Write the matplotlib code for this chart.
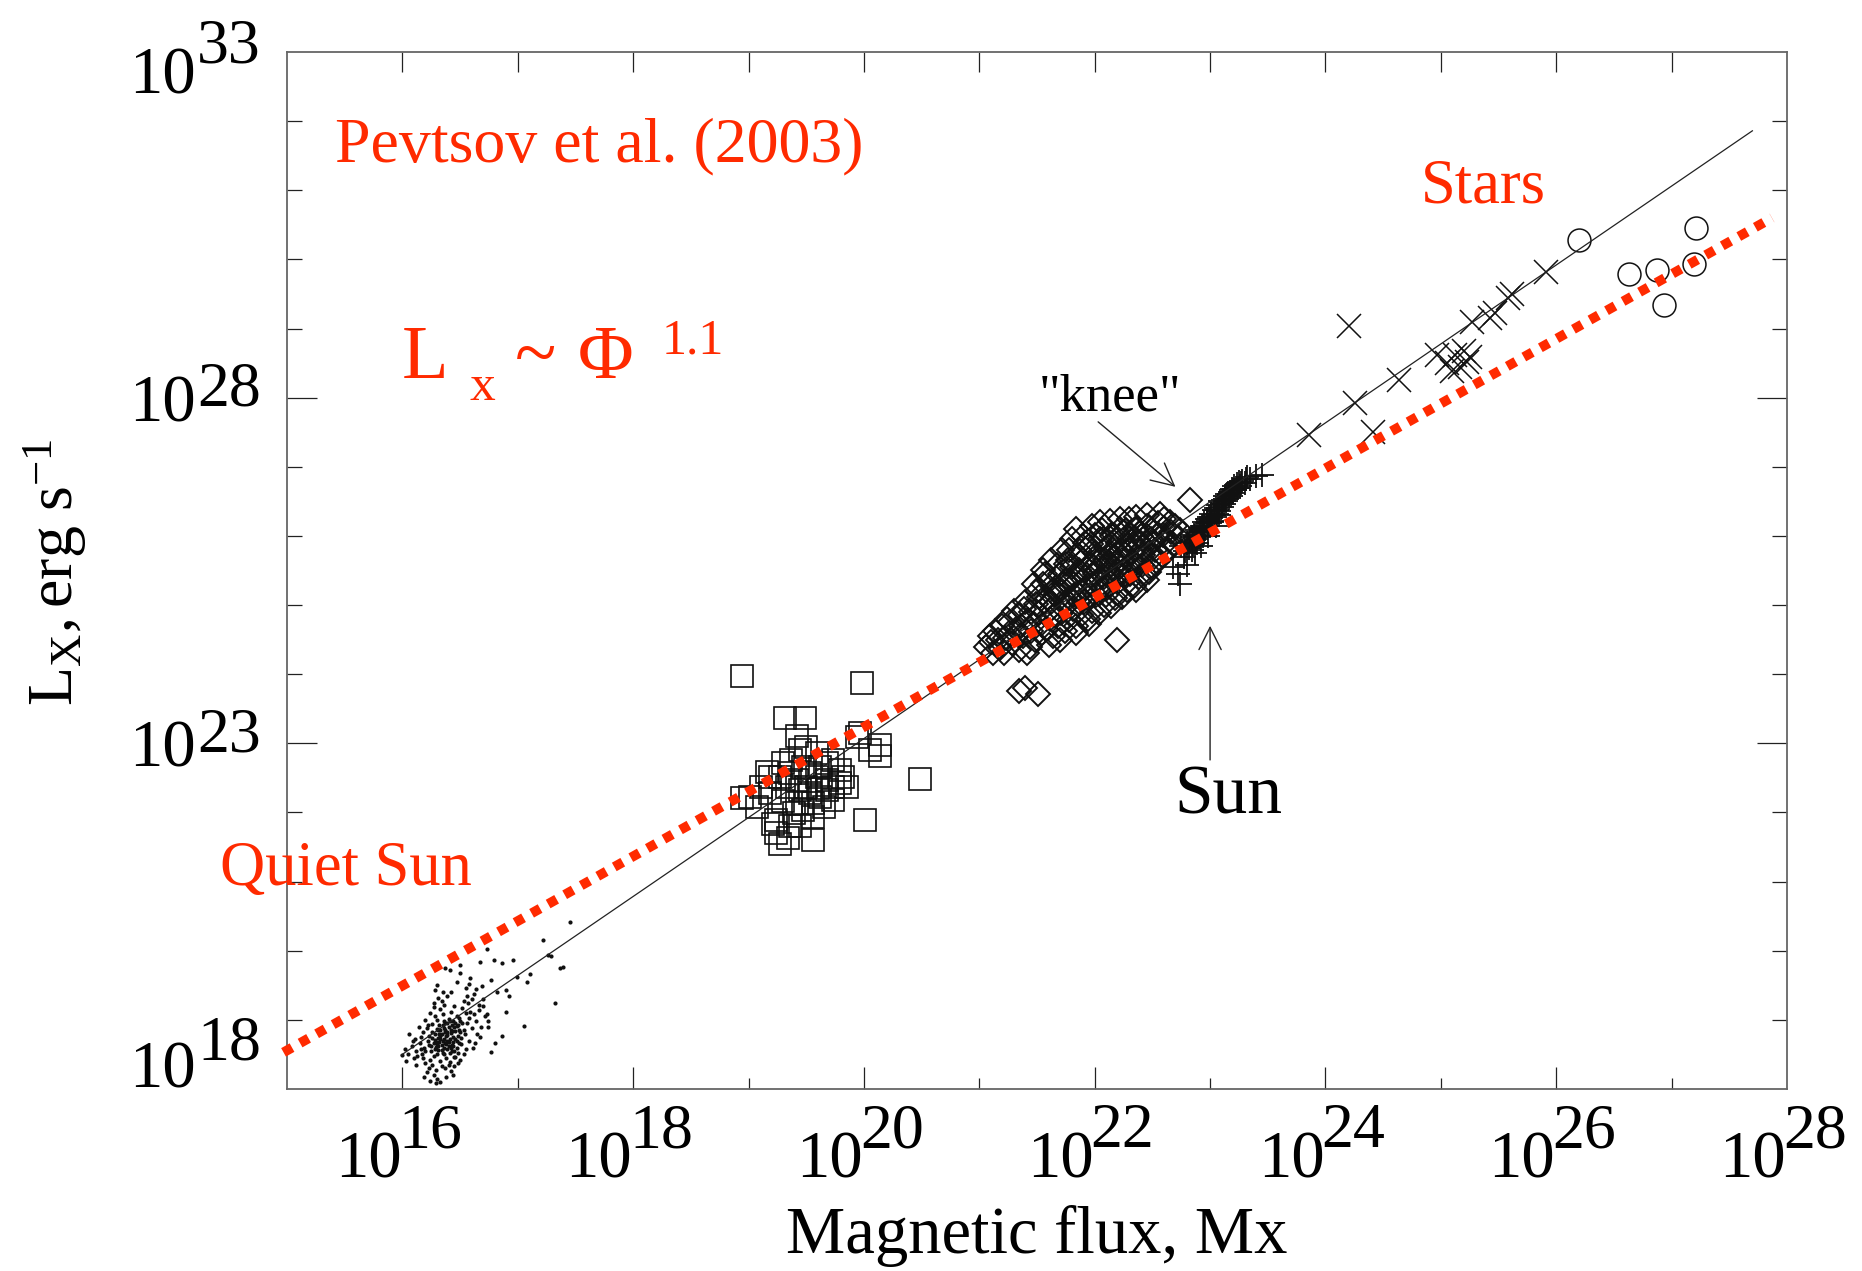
import numpy as np
import matplotlib
matplotlib.use('Agg')
import matplotlib.pyplot as plt
from matplotlib.ticker import FixedLocator, NullFormatter, NullLocator

plt.rcParams['font.family'] = ['Liberation Serif', 'DejaVu Serif']
plt.rcParams['mathtext.fontset'] = 'custom'
plt.rcParams['mathtext.rm'] = 'Liberation Serif'
plt.rcParams['mathtext.it'] = 'Liberation Serif:italic'

RED = '#ff2a00'
DPI = 100
PT = 72.0 / DPI   # pixels -> points

# all values are log10(flux [Mx]), log10(Lx [erg/s])

# quiet Sun pixels
qs_pts = [
    (16.38, 18.76), (16.42, 18.81), (16.35, 18.70), (16.30, 18.65), (16.45, 18.90), (16.40, 18.62), (16.33, 18.85), (16.48, 18.77), (16.28, 18.80), (16.37, 18.95),
    (16.25, 18.55), (16.50, 18.98), (16.44, 18.68), (16.31, 18.74), (16.39, 18.58), (16.36, 18.88), (16.46, 18.84), (16.29, 18.61), (16.41, 18.72), (16.34, 18.79),
    (16.22, 18.70), (16.53, 18.86), (16.47, 19.05), (16.27, 18.48), (16.43, 18.55), (16.32, 18.92), (16.49, 18.66), (16.26, 18.83), (16.40, 19.01), (16.35, 18.52),
    (16.19, 18.60), (16.56, 18.95), (16.51, 18.74), (16.24, 18.42), (16.45, 18.47), (16.30, 19.00), (16.55, 19.10), (16.21, 18.88), (16.42, 19.12), (16.33, 18.40),
    (16.17, 18.50), (16.58, 19.02), (16.37, 18.66), (16.44, 18.98), (16.28, 18.71), (16.39, 18.83), (16.47, 18.60), (16.23, 18.77), (16.50, 18.83), (16.36, 18.60),
    (16.15, 18.66), (16.60, 18.88), (16.34, 18.33), (16.41, 18.39), (16.26, 18.94), (16.52, 19.17), (16.31, 18.57), (16.46, 18.73), (16.38, 18.45), (16.43, 18.64),
    (16.12, 18.55), (16.62, 19.08), (16.20, 18.38), (16.48, 18.52), (16.29, 18.27), (16.35, 19.08), (16.54, 18.80), (16.40, 18.90), (16.32, 18.68), (16.45, 19.20),
    (16.10, 18.45), (16.64, 18.98), (16.27, 18.20), (16.50, 18.42), (16.22, 18.93), (16.57, 19.25), (16.37, 18.30), (16.33, 19.15), (16.47, 18.91), (16.25, 18.62),
    (16.08, 18.62), (16.66, 19.14), (16.30, 18.15), (16.42, 18.26), (16.18, 18.82), (16.60, 19.30), (16.36, 19.22), (16.28, 19.05), (16.49, 19.03), (16.39, 18.70),
    (16.05, 18.50), (16.68, 18.90), (16.24, 18.12), (16.45, 18.33), (16.16, 18.75), (16.53, 19.28), (16.34, 19.28), (16.20, 19.00), (16.58, 18.70), (16.41, 18.52),
    (16.03, 18.40), (16.70, 19.20), (16.33, 18.10), (16.38, 18.18), (16.14, 18.90), (16.62, 19.38), (16.27, 19.18), (16.46, 18.46), (16.55, 18.58), (16.31, 18.85),
    (16.00, 18.49), (16.72, 19.05), (16.29, 18.08), (16.44, 18.20), (16.11, 18.72), (16.65, 18.80), (16.31, 19.32), (16.23, 18.30), (16.52, 18.95), (16.36, 18.99),
    (16.02, 18.58), (16.74, 18.98), (16.26, 18.35), (16.48, 18.38), (16.13, 18.48), (16.59, 19.12), (16.39, 19.35), (16.18, 18.45), (16.43, 18.84), (16.37, 18.82),
    (16.09, 18.70), (16.63, 18.66), (16.21, 18.25), (16.51, 18.65), (16.16, 18.58), (16.56, 19.35), (16.42, 19.40), (16.24, 19.10), (16.40, 18.35), (16.30, 18.50),
    (16.06, 18.80), (16.67, 18.75), (16.19, 18.18), (16.53, 18.50), (16.12, 18.35), (16.61, 18.60), (16.35, 19.40), (16.27, 19.25), (16.44, 18.62), (16.33, 18.72),
    (16.20, 18.55), (16.36, 18.72), (16.42, 18.86), (16.29, 18.68), (16.46, 18.96), (16.34, 18.64), (16.39, 18.78), (16.32, 18.80), (16.44, 18.75), (16.37, 18.86),
    (16.26, 18.74), (16.40, 18.68), (16.31, 18.62), (16.47, 18.70), (16.35, 18.92), (16.43, 18.93), (16.28, 18.58), (16.38, 18.65), (16.41, 18.98), (16.34, 18.56),
    (16.23, 18.64), (16.49, 18.85), (16.36, 18.50), (16.30, 18.87), (16.45, 18.55), (16.39, 18.96), (16.33, 18.76), (16.48, 18.93), (16.27, 18.67), (16.42, 18.60),
    (17.45, 20.41), (17.22, 20.16), (17.26, 19.94), (17.29, 19.92), (17.37, 19.75), (17.39, 19.77), (17.11, 19.66), (17.32, 19.25), (17.05, 18.91), (16.73, 20.02),
    (16.79, 19.87), (16.86, 19.82), (16.96, 19.86), (16.67, 19.84), (16.50, 19.79), (16.50, 19.68), (16.59, 19.61), (16.69, 19.49), (16.77, 19.58), (16.82, 19.41),
    (16.90, 19.43), (16.99, 19.62), (17.08, 19.55), (16.73, 19.09), (16.90, 19.12), (16.74, 18.90), (16.86, 18.76), (16.80, 18.66), (16.77, 18.54), (16.41, 19.72),
    (16.37, 19.75), (16.30, 19.50), (16.28, 19.43), (16.92, 19.35), (16.70, 19.30), (16.64, 19.45), (16.58, 19.52), (16.47, 19.55), (16.55, 19.46), (16.66, 19.22),
]

# X-ray bright points
xbp_pts = [
    (18.94, 23.97), (19.98, 23.87), (19.32, 23.36), (19.49, 23.36), (19.42, 23.10), (19.97, 23.15), (20.14, 22.98), (20.14, 22.81),
    (20.49, 22.49), (19.19, 22.52), (20.01, 21.89), (19.01, 22.23), (19.34, 21.63), (19.56, 21.60), (19.24, 21.70), (19.27, 21.55),
    (19.16, 22.59), (19.27, 22.52), (19.37, 22.76), (19.45, 22.90), (19.50, 22.95), (19.59, 22.86), (19.68, 22.71), (19.73, 22.76),
    (19.79, 22.61), (19.68, 22.47), (19.79, 22.42), (19.59, 22.52), (19.42, 22.47), (19.33, 22.37), (19.45, 22.33), (19.53, 22.28),
    (19.62, 22.23), (19.68, 22.33), (19.73, 22.37), (19.82, 22.52), (19.19, 22.28), (19.11, 22.37), (19.07, 22.08), (19.24, 21.89),
    (19.39, 21.99), (19.47, 22.04), (19.56, 21.94), (19.42, 22.13), (19.30, 22.16), (19.65, 22.08), (19.56, 22.13), (19.50, 22.37),
    (19.60, 22.35), (19.73, 22.18), (19.45, 21.80), (19.36, 21.80), (19.21, 21.84), (19.85, 22.37), (20.05, 22.90), (19.94, 23.09),
    (19.53, 22.57), (19.36, 22.57), (19.30, 22.71), (19.47, 22.66), (19.62, 22.66), (18.94, 22.21),
]

# active regions
ar_pts = [
    (21.06, 24.40), (21.09, 24.55), (21.12, 24.30), (21.14, 24.62), (21.10, 24.47),
    (21.18, 24.38), (21.20, 24.70), (21.22, 24.52), (21.24, 24.80), (21.21, 24.30),
    (21.28, 24.45), (21.30, 24.92), (21.32, 24.66), (21.34, 24.35), (21.27, 24.75), (21.35, 24.85),
    (21.38, 24.55), (21.40, 25.05), (21.42, 24.78), (21.44, 24.40), (21.39, 24.95), (21.45, 24.62),
    (21.48, 24.50), (21.50, 25.20), (21.52, 24.88), (21.54, 24.60), (21.49, 25.02), (21.55, 25.30), (21.47, 24.72),
    (21.58, 24.65), (21.60, 25.35), (21.62, 24.95), (21.64, 24.55), (21.59, 25.10), (21.65, 25.22), (21.61, 24.80), (21.57, 25.45),
    (21.68, 24.70), (21.70, 25.45), (21.72, 25.05), (21.74, 24.62), (21.69, 25.25), (21.75, 25.60), (21.71, 24.88), (21.67, 25.58), (21.73, 25.30),
    (21.78, 24.78), (21.80, 25.55), (21.82, 25.15), (21.84, 24.70), (21.79, 25.35), (21.85, 25.72), (21.81, 24.95), (21.77, 25.65), (21.83, 25.42), (21.86, 25.05),
    (21.88, 24.85), (21.90, 25.65), (21.92, 25.25), (21.94, 24.80), (21.89, 25.45), (21.95, 25.85), (21.91, 25.05), (21.87, 25.78), (21.93, 25.52), (21.96, 25.15),
    (21.98, 24.92), (22.00, 25.75), (22.02, 25.35), (22.04, 24.88), (21.99, 25.55), (22.05, 25.95), (22.01, 25.15), (21.97, 25.88), (22.03, 25.62), (22.06, 25.25), (22.00, 26.02),
    (22.08, 25.00), (22.10, 25.82), (22.12, 25.45), (22.14, 24.98), (22.09, 25.65), (22.15, 26.00), (22.11, 25.25), (22.07, 25.95), (22.13, 25.72), (22.16, 25.35),
    (22.18, 25.10), (22.20, 25.90), (22.22, 25.55), (22.24, 25.12), (22.19, 25.75), (22.25, 26.05), (22.21, 25.35), (22.17, 26.02), (22.23, 25.80), (22.26, 25.45),
    (22.28, 25.22), (22.30, 25.95), (22.32, 25.62), (22.34, 25.28), (22.29, 25.80), (22.35, 26.10), (22.31, 25.45), (22.27, 26.08), (22.33, 25.88),
    (22.38, 25.40), (22.40, 26.00), (22.42, 25.72), (22.44, 25.45), (22.39, 25.88), (22.45, 26.15), (22.41, 25.58), (22.37, 26.10),
    (22.48, 25.55), (22.50, 26.08), (22.52, 25.80), (22.54, 25.62), (22.49, 25.95), (22.55, 26.18), (22.51, 25.70),
    (22.58, 25.72), (22.60, 26.12), (22.62, 25.90), (22.64, 25.80), (22.59, 26.02), (22.65, 26.20),
    (22.68, 25.88), (22.70, 26.15), (22.72, 25.98), (22.74, 26.08),
    (21.72, 25.80), (21.80, 25.95), (21.84, 26.10), (21.90, 26.00), (21.98, 26.15), (22.05, 26.20), (22.13, 26.22), (22.22, 26.25),
    (22.30, 26.25), (22.36, 26.28), (22.45, 26.30), (22.57, 26.32), (21.62, 25.65), (21.55, 25.50), (21.47, 25.30),
    (21.70, 24.50), (21.84, 24.60), (21.60, 24.42), (21.41, 24.30), (21.95, 24.72), (22.36, 25.22), (22.45, 25.36), (22.19, 25.17),
    (21.62, 25.05), (21.66, 25.15), (21.70, 25.20), (21.74, 25.35), (21.78, 25.10), (21.82, 25.30), (21.86, 25.50), (21.88, 25.20),
    (21.92, 25.40), (21.96, 25.60), (21.98, 25.30), (22.02, 25.50), (22.04, 25.70), (22.08, 25.40), (22.10, 25.60), (22.12, 25.85),
    (22.16, 25.55), (22.18, 25.70), (22.20, 25.45), (22.24, 25.65), (22.26, 25.85), (22.28, 25.55), (22.32, 25.75), (22.34, 25.95),
    (22.36, 25.60), (22.40, 25.80), (22.42, 25.95), (22.46, 25.75), (22.50, 25.90), (22.54, 26.00), (21.56, 25.05), (21.52, 25.12),
    (21.45, 24.90), (21.36, 24.70), (21.26, 24.60), (21.16, 24.50), (21.66, 24.85), (21.76, 25.00), (21.86, 25.15), (22.00, 25.45),
    (22.14, 25.60), (22.22, 26.10), (22.06, 26.08), (21.92, 25.90), (21.78, 25.80), (22.60, 26.25), (22.66, 26.05), (22.30, 25.35),
    (22.47, 25.48), (22.10, 25.15),
    (22.19, 24.50), (21.34, 23.75), (21.40, 23.80), (21.51, 23.72), (22.83, 26.52),
]

# the Sun
sun_pts = [
    (22.74, 25.31), (22.68, 25.55), (22.77, 25.70), (22.72, 25.45), (22.80, 25.58), (22.75, 25.85),
    (22.78, 25.78), (22.80, 25.90), (22.82, 25.82), (22.84, 25.98), (22.85, 25.88), (22.86, 26.02), (22.88, 25.95), (22.89, 26.08),
    (22.90, 25.98), (22.91, 26.12), (22.92, 26.05), (22.93, 26.15), (22.94, 26.00), (22.95, 26.20), (22.96, 26.10), (22.97, 26.25),
    (22.98, 26.15), (22.99, 26.28), (23.00, 26.18), (23.01, 26.32), (23.02, 26.22), (23.03, 26.38), (23.04, 26.28), (23.05, 26.40),
    (23.06, 26.32), (23.07, 26.45), (23.08, 26.36), (23.09, 26.50), (23.10, 26.42), (23.11, 26.52), (23.12, 26.46), (23.13, 26.58),
    (23.14, 26.50), (23.15, 26.60), (23.16, 26.55), (23.17, 26.64), (23.18, 26.58), (23.19, 26.68), (23.20, 26.62), (23.21, 26.72),
    (23.22, 26.66), (23.23, 26.75), (23.24, 26.70), (23.25, 26.78), (23.26, 26.72), (23.28, 26.80), (23.30, 26.76), (23.32, 26.85),
    (23.35, 26.82), (23.40, 26.86), (23.45, 26.88), (22.87, 25.75), (22.92, 25.85), (22.98, 26.00), (23.05, 26.15),
    (22.83, 25.93), (22.87, 26.00), (22.90, 26.06), (22.94, 26.12), (22.97, 26.18), (23.00, 26.25), (23.03, 26.30), (23.06, 26.38),
    (23.10, 26.47), (23.13, 26.53), (23.16, 26.60), (23.20, 26.67), (23.23, 26.70), (23.27, 26.77), (23.31, 26.82), (22.95, 26.05),
    (23.02, 26.20), (23.08, 26.30), (22.89, 25.90), (22.84, 25.80),
]

# G, K, M dwarfs
dwarf_pts = [
    (24.20, 29.04), (25.91, 29.82), (25.62, 29.50), (25.58, 29.44), (25.47, 29.22), (25.27, 29.10), (25.43, 29.15),
    (24.97, 28.62), (25.05, 28.50), (25.12, 28.62), (25.20, 28.67), (25.25, 28.59), (25.17, 28.45), (25.10, 28.38),
    (25.23, 28.52), (24.64, 28.26), (24.26, 27.92), (23.86, 27.46), (24.41, 27.51),
]

# T Tauri stars
tts_pts = [(26.20, 30.28), (27.21, 30.45), (27.19, 29.94), (26.63, 29.79), (26.87, 29.84), (26.93, 29.34)]

# power-law fits
fit_x = [15.99, 27.70]
fit_y = [18.49, 31.86]
red_x = [14.97, 27.87]
red_y = [18.53, 30.60]

x_label_exp = [16, 18, 20, 22, 24, 26, 28]
y_label_exp = [18, 23, 28, 33]


def pw(pts):
    a = np.array(pts, dtype=float)
    return 10.0 ** a[:, 0], 10.0 ** a[:, 1]


fig = plt.figure(figsize=(18.62, 12.71), dpi=DPI)
ax = fig.add_axes([287 / 1862, 1 - 1089 / 1271, 1500 / 1862, 1037 / 1271])
ax.set_xscale('log')
ax.set_yscale('log')
ax.set_xlim(1e15, 1e28)
ax.set_ylim(1e18, 1e33)

ink = '#111111'
x, y = pw(qs_pts)
ax.plot(x, y, 'o', ms=3.0, mew=0, color=ink, zorder=2)
x, y = pw(xbp_pts)
ax.plot(x, y, 's', ms=16.5, mfc='none', mec=ink, mew=1.2, zorder=2)
x, y = pw(ar_pts)
ax.plot(x, y, 'D', ms=12.5, mfc='none', mec=ink, mew=1.4, zorder=2)
x, y = pw(sun_pts)
ax.plot(x, y, '+', ms=17, mec=ink, mew=1.3, zorder=2)
x, y = pw(dwarf_pts)
ax.plot(x, y, 'x', ms=17, mec=ink, mew=1.1, zorder=2)
x, y = pw(tts_pts)
ax.plot(x, y, 'o', ms=16.5, mfc='none', mec=ink, mew=1.1, zorder=2)

ax.plot(10.0 ** np.array(fit_x), 10.0 ** np.array(fit_y), color='#222222', lw=0.9, zorder=3)
ax.plot(10.0 ** np.array(red_x), 10.0 ** np.array(red_y), color=RED, lw=7,
        dashes=(1.0, 0.95), dash_capstyle='butt', zorder=5, clip_on=False)

# frame and ticks
for sp in ax.spines.values():
    sp.set_color('#666666')
    sp.set_linewidth(1.3)
ax.xaxis.set_major_locator(FixedLocator([10.0 ** e for e in range(16, 27, 2)]))
ax.xaxis.set_minor_locator(FixedLocator([10.0 ** e for e in range(17, 28, 2)]))
ax.yaxis.set_major_locator(FixedLocator([10.0 ** e for e in (23, 28)]))
ax.yaxis.set_minor_locator(FixedLocator([10.0 ** e for e in range(19, 33) if e not in (23, 28)]))
for a in (ax.xaxis, ax.yaxis):
    a.set_major_formatter(NullFormatter())
    a.set_minor_formatter(NullFormatter())
ax.tick_params(axis='x', which='major', direction='in', length=22 * PT, width=0.9,
               color='#222222', top=False, labelbottom=False)
ax.tick_params(axis='x', which='minor', direction='in', length=11 * PT, width=0.9,
               color='#222222', top=False)
ax.tick_params(axis='y', which='major', direction='in', length=30 * PT, width=0.9,
               color='#222222', left=True, right=True, labelleft=False)
ax.tick_params(axis='y', which='minor', direction='in', length=15 * PT, width=0.9,
               color='#222222', left=True, right=True)

top = ax.secondary_xaxis('top')
top.set_xticks([10.0 ** e for e in range(16, 28)])
top.xaxis.set_minor_locator(NullLocator())
top.xaxis.set_major_formatter(NullFormatter())
top.tick_params(axis='x', which='major', direction='in', length=20 * PT, width=0.9,
                color='#222222', labeltop=False)
top.spines['top'].set_visible(False)

# tick labels: 10 with a near full-size raised exponent
for e in x_label_exp:
    ax.annotate('10', xy=(10.0 ** e, 0), xycoords=('data', 'axes fraction'),
                xytext=(-1 * PT, -88 * PT), textcoords='offset points',
                ha='right', va='baseline', fontsize=48, annotation_clip=False)
    ax.annotate(str(e), xy=(10.0 ** e, 0), xycoords=('data', 'axes fraction'),
                xytext=(-4 * PT, -58 * PT), textcoords='offset points',
                ha='left', va='baseline', fontsize=46, annotation_clip=False)

y_base_dy = [2, -23, -24, -41]
y_exp_dy = [29, -8, -8, -10]
for e, db, de in zip(y_label_exp, y_base_dy, y_exp_dy):
    ax.annotate('10', xy=(0, 10.0 ** e), xycoords=('axes fraction', 'data'),
                xytext=(-91 * PT, db * PT), textcoords='offset points',
                ha='right', va='baseline', fontsize=48, annotation_clip=False)
    ax.annotate(str(e), xy=(0, 10.0 ** e), xycoords=('axes fraction', 'data'),
                xytext=(-90 * PT, de * PT), textcoords='offset points',
                ha='left', va='baseline', fontsize=46, annotation_clip=False)

fig.text(1037 / 1862, 1 - 1253 / 1271, 'Magnetic flux, Mx', ha='center', va='baseline', fontsize=48)
fig.text(55 / 1862, 1 - 572 / 1271, r'$\mathrm{L_X,erg\ s^{-1}}$', rotation=90,
         ha='center', va='center', fontsize=46)

# annotations
ax.text(10 ** 15.416, 10 ** 31.41, 'Pevtsov et al. (2003)', color=RED, fontsize=46, va='baseline')
ax.text(10 ** 25.37, 10 ** 30.83, 'Stars', color=RED, fontsize=45, ha='center', va='baseline')
ax.text(10 ** 14.42, 10 ** 20.95, 'Quiet Sun', color=RED, fontsize=45, va='baseline', clip_on=False)
ax.text(10 ** 23.16, 10 ** 21.99, 'Sun', fontsize=50, ha='center', va='baseline')
ax.text(10 ** 22.13, 10 ** 27.82, '"knee"', fontsize=38, ha='center', va='baseline')

arrow = dict(arrowstyle='->', color='#222222', lw=1.0, mutation_scale=40, shrinkA=0, shrinkB=0)
ax.annotate('', xy=(10 ** 22.70, 10 ** 26.71), xytext=(10 ** 22.03, 10 ** 27.65), arrowprops=arrow)
ax.annotate('', xy=(1e23, 10 ** 24.70), xytext=(1e23, 10 ** 22.76), arrowprops=arrow)

# Lx ~ Phi^1.1
fig.text(402 / 1862, 1 - 378 / 1271, 'L', color=RED, fontsize=55, va='baseline')
fig.text(469 / 1862, 1 - 400 / 1271, 'x', color=RED, fontsize=37, va='baseline')
fig.text(515 / 1862, 1 - 378 / 1271, '~', color=RED, fontsize=55, va='baseline')
fig.text(578 / 1862, 1 - 378 / 1271, '\u03a6', color=RED, fontsize=55, va='baseline')
fig.text(662 / 1862, 1 - 353 / 1271, '1.1', color=RED, fontsize=36, va='baseline')

fig.savefig('out.png', dpi=DPI, facecolor='white')
